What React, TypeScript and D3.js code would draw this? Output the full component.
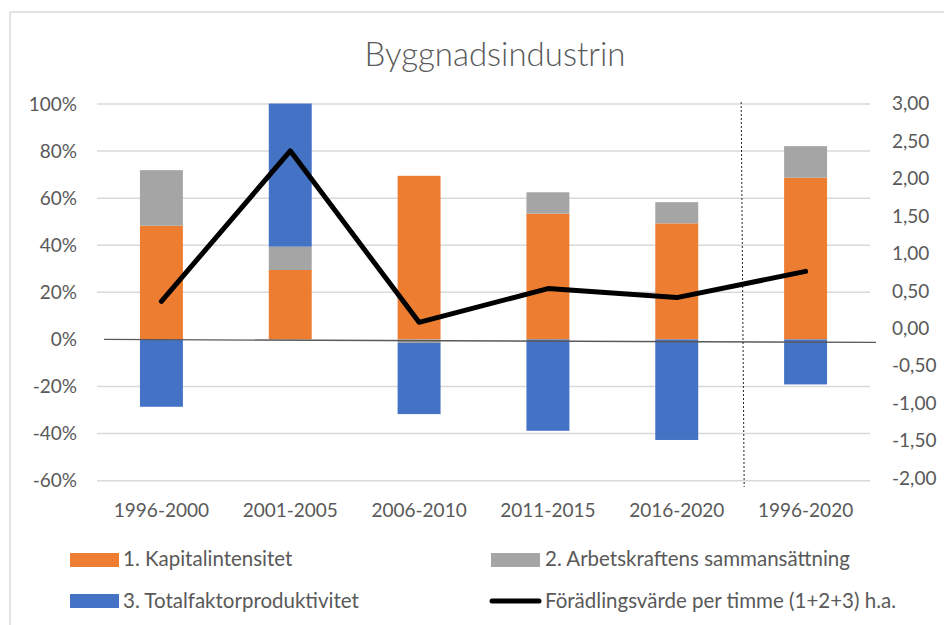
import React from 'react';
import * as d3 from 'd3';

const categories = ['1996-2000', '2001-2005', '2006-2010', '2011-2015', '2016-2020', '1996-2020'];
const kapitalintensitet = [48.3, 29.5, 69.5, 53.4, 49.3, 68.7];
const arbetskraft = [23.6, 9.9, -1.5, 9.1, 9.0, 13.4];
const tfp = [-28.6, 60.8, -30.2, -38.8, -42.7, -19.1];
const foradling = [0.36, 2.37, 0.08, 0.53, 0.41, 0.76];
const leftTicks = [-60, -40, -20, 0, 20, 40, 60, 80, 100];
const rightTicks = [-2, -1.5, -1, -0.5, 0, 0.5, 1, 1.5, 2, 2.5, 3];

const seriesNames = ['1. Kapitalintensitet', '2. Arbetskraftens sammansättning', '3. Totalfaktorproduktivitet'];
const lineName = 'Förädlingsvärde per timme (1+2+3) h.a.';
const colors = ['#ED7D31', '#A5A5A5', '#4472C4'];

const W = 944;
const H = 625;
const FONT = 'Lato, "Open Sans", sans-serif';
const TXT = '#595959';

export default function App() {
  const x = d3.scaleBand<string>().domain(categories).range([97, 870]).paddingInner(2 / 3).paddingOuter(1 / 3);
  const yL = d3.scaleLinear().domain([-60, 100]).range([480.7, 104]);
  const yR = d3.scaleLinear().domain([-2, 3]).range([478.1, 103.6]);

  const rows = categories.map((c, i) => ({ cat: c, k: kapitalintensitet[i], a: arbetskraft[i], t: tfp[i] }));
  const stack = d3.stack<any>().keys(['k', 'a', 't']).offset(d3.stackOffsetDiverging);
  const stacked = stack(rows);

  const line = d3
    .line<number>()
    .x((_, i) => (x(categories[i]) as number) + x.bandwidth() / 2)
    .y((d) => yR(d));

  const fmtR = (v: number) => d3.format('.2f')(v).replace('.', ',').replace('−', '-');

  const sepX = (x(categories[4]) as number) + x.bandwidth() + (x.step() - x.bandwidth()) / 2;

  return (
    <svg width={W} height={H} style={{ position: 'absolute', left: 0, top: 0, background: '#fff' }} fontFamily={FONT}>
      <rect x={0} y={0} width={W} height={H} fill="#fff" />
      {/* frame */}
      <line x1={10} y1={12} x2={W} y2={12} stroke="#d9d9d9" strokeWidth={1.5} />
      <line x1={10} y1={12} x2={10} y2={H} stroke="#d9d9d9" strokeWidth={1.5} />

      {/* title */}
      <text x={495} y={66} textAnchor="middle" fontSize={33} fontWeight={300} fill={TXT}>
        Byggnadsindustrin
      </text>

      {/* gridlines */}
      {leftTicks.map((t) =>
        t === 0 ? null : (
          <line key={t} x1={97} x2={870} y1={yL(t)} y2={yL(t)} stroke="#d9d9d9" strokeWidth={1.5} />
        )
      )}

      {/* left axis labels */}
      {leftTicks.map((t) => (
        <text key={t} x={77} y={yL(t)} dy="0.35em" textAnchor="end" fontSize={19} fill={TXT}>
          {t}%
        </text>
      ))}

      {/* right axis labels */}
      {rightTicks.map((t) => (
        <text key={t} x={892} y={yR(t)} dy="0.35em" textAnchor="start" fontSize={19} fill={TXT}>
          {fmtR(t)}
        </text>
      ))}

      {/* bars */}
      {stacked.map((s, si) =>
        s.map((d, i) => {
          const y0 = yL(Math.max(d[0], d[1]));
          const y1 = yL(Math.min(d[0], d[1]));
          return (
            <rect
              key={si + '-' + i}
              x={x(categories[i])}
              y={y0}
              width={x.bandwidth()}
              height={Math.max(0, y1 - y0)}
              fill={colors[si]}
            />
          );
        })
      )}

      {/* zero axis line */}
      <line x1={104} y1={yL(0)} x2={876} y2={yL(0) + 3} stroke="#595959" strokeWidth={1.3} />

      {/* separator */}
      <line x1={sepX} y1={102} x2={sepX + 3} y2={487} stroke="#222" strokeWidth={1} strokeDasharray="2,2" />

      {/* line series */}
      <path d={line(foradling) || ''} fill="none" stroke="#000" strokeWidth={5} strokeLinejoin="round" strokeLinecap="round" />

      {/* category labels */}
      {categories.map((c) => (
        <text key={c} x={(x(c) as number) + x.bandwidth() / 2} y={510} dy="0.35em" textAnchor="middle" fontSize={19} fill={TXT}>
          {c}
        </text>
      ))}

      {/* legend */}
      <rect x={70} y={553} width={49} height={14} fill={colors[0]} />
      <text x={123} y={559} dy="0.35em" fontSize={20.5} fill={TXT}>{seriesNames[0]}</text>
      <rect x={491} y={553} width={49} height={14} fill={colors[1]} />
      <text x={545} y={559} dy="0.35em" fontSize={20.5} fill={TXT}>{seriesNames[1]}</text>
      <rect x={70} y={594} width={49} height={14} fill={colors[2]} />
      <text x={123} y={601} dy="0.35em" fontSize={20.5} fill={TXT}>{seriesNames[2]}</text>
      <line x1={492} x2={539} y1={601} y2={601} stroke="#000" strokeWidth={5} strokeLinecap="round" />
      <text x={545} y={601} dy="0.35em" fontSize={20.5} fill={TXT}>{lineName}</text>
    </svg>
  );
}
